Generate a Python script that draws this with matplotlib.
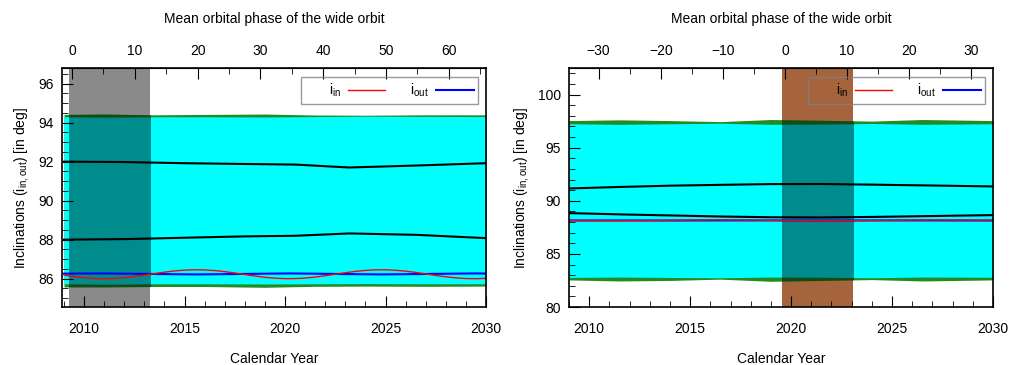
import numpy as np
import matplotlib
matplotlib.use("Agg")
import matplotlib.pyplot as plt
from matplotlib.ticker import MultipleLocator, FixedLocator

plt.rcParams["font.family"] = ["Liberation Sans", "DejaVu Sans"]
plt.rcParams["mathtext.default"] = "regular"
plt.rcParams["font.size"] = 10

# ---- left panel data ----
yr_half = np.arange(2009, 2030.01, 0.5)
L_in = [86.183, 86.110, 86.052, 86.013, 86.000, 86.013, 86.052, 86.110, 86.183,
        86.261, 86.336, 86.398, 86.441, 86.460, 86.451, 86.418, 86.362, 86.292,
        86.214, 86.138, 86.073, 86.026, 86.002, 86.005, 86.034, 86.085, 86.153,
        86.230, 86.307, 86.375, 86.426, 86.455, 86.458, 86.434, 86.387, 86.322,
        86.246, 86.168, 86.098, 86.042, 86.008, 86.000, 86.019]
L_out_yr = [2009, 2011, 2013.3, 2015.6, 2018, 2020.2, 2022.5, 2024.8, 2027.2, 2029.5, 2030]
L_out = [86.26, 86.27, 86.245, 86.22, 86.245, 86.27, 86.245, 86.22, 86.245, 86.27, 86.265]

L_blk_yr = [2009, 2012, 2015, 2018, 2020.5, 2023.2, 2026.5, 2030]
L_blk_hi = [92.00, 91.98, 91.92, 91.88, 91.85, 91.70, 91.80, 91.92]
L_blk_lo = [88.00, 88.03, 88.10, 88.17, 88.20, 88.32, 88.25, 88.08]

L_env_yr = [2009, 2011, 2013.5, 2016, 2019, 2021.5, 2024, 2027, 2030]
L_out_top = [94.42, 94.44, 94.40, 94.42, 94.44, 94.39, 94.38, 94.40, 94.40]
L_in_top = [94.30, 94.28, 94.30, 94.30, 94.29, 94.31, 94.33, 94.32, 94.31]
L_in_bot = [85.74, 85.72, 85.74, 85.74, 85.73, 85.74, 85.75, 85.74, 85.74]
L_out_bot = [85.58, 85.58, 85.60, 85.60, 85.56, 85.61, 85.62, 85.61, 85.62]
L_shade = (2009.25, 2013.3)
L_phase_ticks = [0, 10, 20, 30, 40, 50, 60]
L_phase_minor = [5, 15, 25, 35, 45, 55, 65]

# ---- right panel data ----
R_yr = [2009, 2011.5, 2014, 2016.5, 2019, 2021.5, 2024, 2026.5, 2030]
R_in = [88.16, 88.12, 88.17, 88.20, 88.16, 88.12, 88.15, 88.19, 88.17]
R_out = [88.14, 88.15, 88.14, 88.15, 88.15, 88.14, 88.15, 88.15, 88.14]
R_blk_hi = [91.16, 91.30, 91.42, 91.50, 91.57, 91.58, 91.52, 91.45, 91.35]
R_blk_lo = [88.84, 88.72, 88.62, 88.52, 88.45, 88.43, 88.48, 88.55, 88.65]
R_out_top = [97.55, 97.62, 97.55, 97.45, 97.65, 97.58, 97.50, 97.65, 97.55]
R_in_top = [97.25, 97.20, 97.25, 97.30, 97.20, 97.22, 97.28, 97.20, 97.25]
R_in_bot = [82.78, 82.82, 82.78, 82.75, 82.82, 82.80, 82.75, 82.82, 82.80]
R_out_bot = [82.55, 82.45, 82.50, 82.62, 82.42, 82.50, 82.58, 82.45, 82.55]
R_shade = (2019.55, 2023.05)
R_phase_ticks = [-30, -20, -10, 0, 10, 20, 30]
R_phase_minor = [-35, -25, -15, -5, 5, 15, 25]


def panel(ax, x_env, ot, it, ib, ob, x_blk, bhi, blo, x_in, v_in, x_out, v_out,
          shade, shade_col, xlim, ylim, ymaj, ymin, phase0, rate, pticks, pminor):
    span = ax.axvspan(*shade, color=shade_col, lw=0, zorder=0)
    ax.fill_between(x_env, ob, ot, color="#228b22", lw=0, zorder=1)
    ax.fill_between(x_env, ib, it, color="#00ffff", lw=0, zorder=1.1)
    dark = ax.fill_between(x_env, ob, ot, color="black", alpha=0.45, lw=0, zorder=1.2)
    dark.set_clip_path(span)

    ax.plot(x_blk, bhi, color="black", lw=1.5, zorder=3)
    ax.plot(x_blk, blo, color="black", lw=1.5, zorder=3)
    ax.plot(x_in, v_in, color="red", lw=1.0, zorder=3.2, label="      i$_{in}$")
    ax.plot(x_out, v_out, color="blue", lw=1.5, zorder=3.1, label="i$_{out}$")

    ax.set_xlim(*xlim)
    ax.set_ylim(*ylim)
    ax.xaxis.set_major_locator(MultipleLocator(5))
    ax.xaxis.set_minor_locator(MultipleLocator(1))
    ax.yaxis.set_major_locator(MultipleLocator(ymaj))
    ax.yaxis.set_minor_locator(MultipleLocator(ymin))
    ax.tick_params(which="both", direction="in", top=False, right=False)
    ax.tick_params(axis="x", which="major", length=8, pad=11, labelsize=10)
    ax.tick_params(axis="x", which="minor", length=4)
    ax.tick_params(axis="y", which="major", length=8, pad=6, labelsize=10)
    ax.tick_params(axis="y", which="minor", length=4)
    for s in ax.spines.values():
        s.set_linewidth(1.2)
        s.set_zorder(5)

    sec = ax.secondary_xaxis("top", functions=(lambda y: (y - phase0) * rate,
                                                lambda p: p / rate + phase0))
    sec.xaxis.set_major_locator(FixedLocator(pticks))
    sec.xaxis.set_minor_locator(FixedLocator(pminor))
    sec.tick_params(which="both", direction="in")
    sec.tick_params(which="major", length=8, pad=7, labelsize=10)
    sec.tick_params(which="minor", length=4)
    sec.set_xlabel("Mean orbital phase of the wide orbit", fontsize=10, labelpad=15)

    ax.set_xlabel("Calendar Year", fontsize=10, labelpad=11)
    ax.set_ylabel("Inclinations (i$_{in,out}$) [in deg]", fontsize=10, labelpad=5)

    leg = ax.legend(loc="upper right", ncol=2, markerfirst=False, fancybox=False,
                    handlelength=2.7, columnspacing=1.8, fontsize=10,
                    bbox_to_anchor=(0.982, 0.962), borderaxespad=0,
                    borderpad=0.35, handletextpad=0.5)
    leg.get_frame().set_facecolor("none")
    leg.get_frame().set_edgecolor("gray")
    leg.get_frame().set_linewidth(1.0)
    leg.set_zorder(6)


fig = plt.figure(figsize=(10.09, 3.65), dpi=100)
ax1 = fig.add_axes([62 / 1009, 58 / 365, 424 / 1009, 239 / 365])
ax2 = fig.add_axes([569 / 1009, 58 / 365, 424 / 1009, 239 / 365])

panel(ax1, L_env_yr, L_out_top, L_in_top, L_in_bot, L_out_bot,
      L_blk_yr, L_blk_hi, L_blk_lo, yr_half, L_in, L_out_yr, L_out,
      L_shade, "#8a8a8a", (2008.9, 2030), (84.55, 96.8), 2, 0.5, 2009.4, 3.2,
      L_phase_ticks, L_phase_minor)
panel(ax2, R_yr, R_out_top, R_in_top, R_in_bot, R_out_bot,
      R_yr, R_blk_hi, R_blk_lo, R_yr, R_in, R_yr, R_out,
      R_shade, "#a5643c", (2009.0, 2030), (80, 102.5), 5, 1, 2019.7, 3.25,
      R_phase_ticks, R_phase_minor)

fig.savefig("out.png", dpi=100)
